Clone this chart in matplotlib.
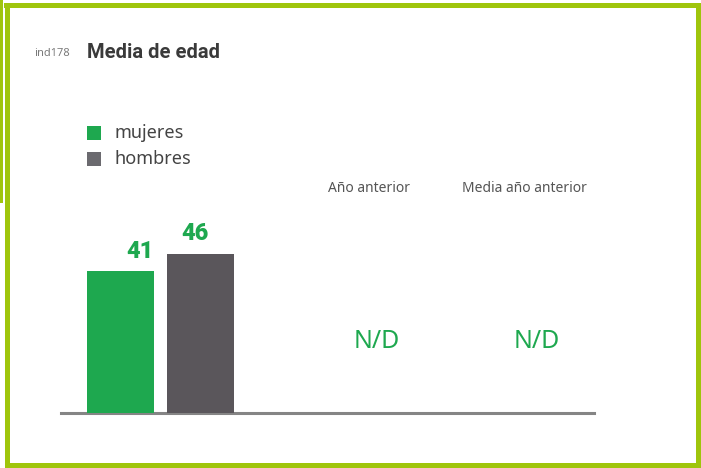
import matplotlib
matplotlib.use("Agg")
import matplotlib.pyplot as plt
from matplotlib.patches import Rectangle

# ---- data ----
categories = ["mujeres", "hombres"]
values = [41, 46]
value_labels = ["41", "46"]
extra_headers = ["Año anterior", "Media año anterior"]
extra_values = ["N/D", "N/D"]
title = "Media de edad"
code = "ind178"

# ---- style ----
W, H = 701, 468
GREEN = "#1ea84f"
DARKGRAY = "#5a565b"
LEG_GRAY = "#6b6a6f"
FRAME = "#9fc50c"
TEXT = "#555555"
FONT = ["Noto Sans", "DejaVu Sans"]
BOLD_FONT = ["Roboto", "DejaVu Sans"]

plt.rcParams["font.family"] = FONT
fig = plt.figure(figsize=(W / 100, H / 100), dpi=100)
fig.patch.set_facecolor("white")

def fx(px):
    return px / W

def fy(py):
    return 1 - py / H

# frame
frame_specs = [
    (4, 3, 697, 5),      # top
    (5, 3, 5, 465),      # left
    (5, 463, 696, 5),    # bottom
    (696, 3, 5, 465),    # right
    (0, 0, 2.5, 203),    # thin left stripe
]
for x0, y0, w, h in frame_specs:
    fig.patches.append(Rectangle((fx(x0), fy(y0 + h)), w / W, h / H,
                                 transform=fig.transFigure, color=FRAME,
                                 lw=0, zorder=5))

# title
fig.text(fx(34), fy(54), code, fontsize=8, color="#7a7a7a", va="center", ha="left")
fig.text(fx(87), fy(52), title, fontsize=14.5, fontweight="bold", color="#3a3a3a",
         va="center", ha="left", family=BOLD_FONT)

# legend
leg_colors = [GREEN, LEG_GRAY]
leg_y = [133, 159]
for c, lab, yy in zip(leg_colors, categories, leg_y):
    fig.patches.append(Rectangle((fx(87), fy(yy + 7)), 14 / W, 14 / H,
                                 transform=fig.transFigure, color=c, lw=0))
    fig.text(fx(114), fy(yy), lab, fontsize=13, color="#444444",
             va="center", ha="left")

# axes: x from px 61 to 595, baseline at y=413, top at y=160
unit = 80.0
x_left_px, x_right_px = 61, 594
bar0_px = 120.5
y_top_px, y_base_px = 160, 413
px_per_val = 142 / 41
ax = fig.add_axes([fx(x_left_px), fy(y_base_px), (x_right_px - x_left_px) / W,
                   (y_base_px - y_top_px) / H])
ax.set_xlim((x_left_px - bar0_px) / unit, (x_right_px - bar0_px) / unit)
ax.set_ylim(0, (y_base_px - y_top_px) / px_per_val)
ax.axis("off")

positions = [0, 1]
bar_colors = [GREEN, DARKGRAY]
ax.bar(positions, values, width=67 / unit, color=bar_colors, zorder=3)
ax.axhline(0, color="#858585", lw=2.2, zorder=2, clip_on=False)

label_offsets = [0.245, -0.07]
for p, v, lab, off in zip(positions, values, value_labels, label_offsets):
    ax.annotate(lab, (p + off, v), xytext=(0, 6), textcoords="offset points",
                ha="center", va="bottom", fontsize=17, fontweight="heavy",
                color=GREEN, family=BOLD_FONT)

extra_pos = [(377 - bar0_px) / unit, (537 - bar0_px) / unit]
header_pos = [(369 - bar0_px) / unit, (524 - bar0_px) / unit]
for hp, xp, hdr, val in zip(header_pos, extra_pos, extra_headers, extra_values):
    ax.text(hp, (y_base_px - 188) / px_per_val, hdr, ha="center", va="center",
            fontsize=10, color=TEXT, clip_on=False)
    ax.text(xp, (y_base_px - 341) / px_per_val, val, ha="center", va="center",
            fontsize=18, color=GREEN, clip_on=False)

fig.savefig("out.png", dpi=100, facecolor="white")
